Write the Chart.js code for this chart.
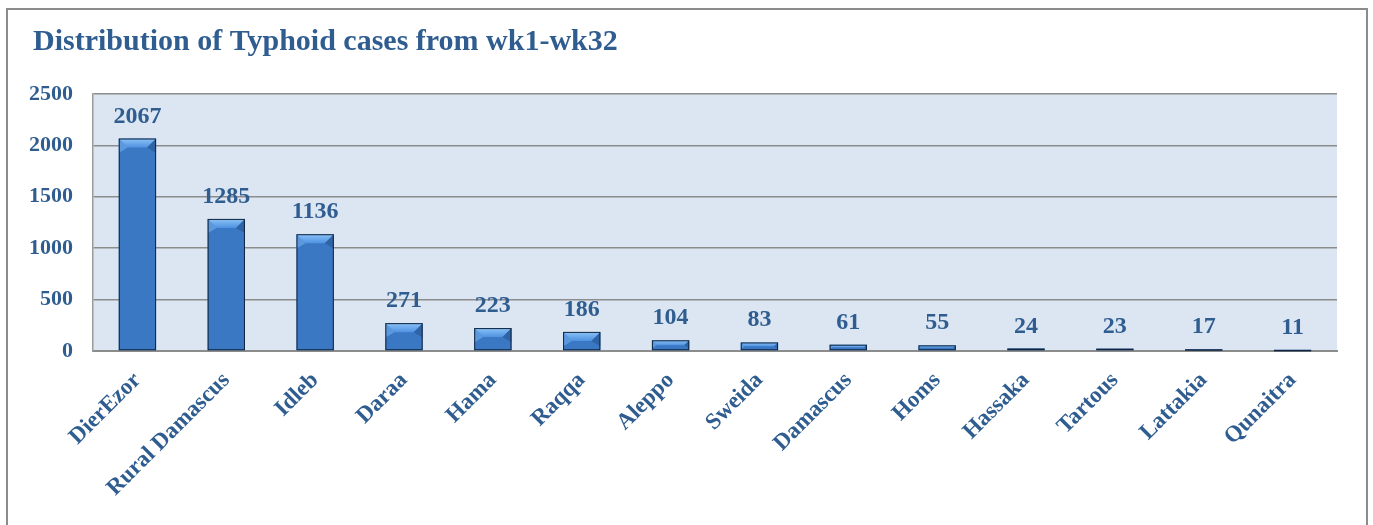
<!DOCTYPE html>
<html>
<head>
<meta charset="utf-8">
<script src="https://cdn.jsdelivr.net/npm/chart.js@4"></script>
<style>
  html,body{margin:0;padding:0;background:#fff;overflow:hidden;}
  #frame{position:absolute;left:6px;top:8px;width:1358px;height:540px;border:2px solid #8c8c8c;}
  #wrap{position:absolute;left:0;top:0;width:1373px;height:525px;}
</style>
</head>
<body>
<div id="frame"></div>
<div id="wrap"><canvas id="chart" width="1373" height="525"></canvas></div>
<script>
const governorates = ['DierEzor','Rural Damascus','Idleb','Daraa','Hama','Raqqa','Aleppo','Sweida','Damascus','Homs','Hassaka','Tartous','Lattakia','Qunaitra'];
const typhoidCases = [2067,1285,1136,271,223,186,104,83,61,55,24,23,17,11];
const yTicks = [0,500,1000,1500,2000,2500];

const titleText = 'Distribution of Typhoid cases from wk1-wk32';
const textColor = '#2f5d90';
const serif = '"Liberation Serif", "DejaVu Serif", serif';

function barFill(ctx){
  const chart = ctx.chart;
  const el = ctx.element;
  if(!chart.chartArea || !el || el.width===undefined) return '#3a78c4';
  const half = el.width/2;
  const g = chart.ctx.createLinearGradient(el.x-half,0,el.x+half,0);
  g.addColorStop(0,'#21528c');
  g.addColorStop(0.15,'#3372bd');
  g.addColorStop(0.5,'#3f82d6');
  g.addColorStop(0.85,'#3372bd');
  g.addColorStop(1,'#21528c');
  return g;
}

// plot area background
const plotBg = {
  id:'plotBg',
  beforeDraw(chart){
    const {ctx,chartArea:a} = chart;
    ctx.save();
    ctx.fillStyle = '#dce6f2';
    ctx.fillRect(a.left,a.top,a.right-a.left,a.bottom-a.top);
    ctx.restore();
  }
};

// title drawn at the top-left
const titlePlugin = {
  id:'titleLeft',
  afterDraw(chart){
    const ctx = chart.ctx;
    ctx.save();
    ctx.font = 'bold 30px '+serif;
    ctx.fillStyle = textColor;
    ctx.textBaseline = 'alphabetic';
    ctx.fillText(titleText,33,50);
    ctx.restore();
  }
};

// bevel on top of each bar and value labels
const bevelAndLabels = {
  id:'bevelAndLabels',
  afterDatasetsDraw(chart){
    const ctx = chart.ctx;
    const meta = chart.getDatasetMeta(0);
    ctx.save();
    meta.data.forEach((bar,i)=>{
      const l = bar.x-bar.width/2, r = bar.x+bar.width/2;
      const t = bar.y, b = bar.base;
      const h = b-t;
      const bv = Math.min(9,h/2);
      if(h>2){
        // top face
        const g = ctx.createLinearGradient(0,t,0,t+bv);
        g.addColorStop(0,'#8cc3f6');
        g.addColorStop(1,'#4f92e2');
        ctx.fillStyle = g;
        ctx.beginPath();
        ctx.moveTo(l,t);ctx.lineTo(r,t);ctx.lineTo(r-bv,t+bv);ctx.lineTo(l+bv,t+bv);ctx.closePath();
        ctx.fill();
        // left corner facet
        ctx.fillStyle = 'rgba(120,180,240,0.55)';
        ctx.beginPath();
        ctx.moveTo(l,t);ctx.lineTo(l+bv,t+bv);ctx.lineTo(l,t+bv*1.6);ctx.closePath();
        ctx.fill();
        // right corner facet
        ctx.fillStyle = 'rgba(25,60,110,0.35)';
        ctx.beginPath();
        ctx.moveTo(r,t);ctx.lineTo(r-bv,t+bv);ctx.lineTo(r,t+bv*1.6);ctx.closePath();
        ctx.fill();
      }
      ctx.strokeStyle = '#10243f';
      ctx.lineWidth = 1;
      ctx.strokeRect(l+0.5,t+0.5,r-l-1,Math.max(h-1,0.5));
      ctx.font = 'bold 24px '+serif;
      ctx.fillStyle = textColor;
      ctx.textAlign = 'center';
      ctx.textBaseline = 'alphabetic';
      ctx.fillText(String(typhoidCases[i]),bar.x,t-16);
    });
    ctx.restore();
  }
};

new Chart(document.getElementById('chart'),{
  type:'bar',
  data:{
    labels:governorates,
    datasets:[{
      data:typhoidCases,
      backgroundColor:barFill,
      borderWidth:0,
      barPercentage:0.42,
      categoryPercentage:1
    }]
  },
  options:{
    responsive:false,
    animation:false,
    events:[],
    layout:{padding:{top:94,left:8,right:36,bottom:0}},
    plugins:{legend:{display:false},title:{display:false},tooltip:{enabled:false}},
    scales:{
      x:{
        grid:{display:false,drawTicks:false},
        border:{display:true,color:'#8c8c8c',width:2},
        ticks:{
          color:textColor,
          font:{family:serif,size:23,weight:'bold'},
          minRotation:45,maxRotation:45,
          autoSkip:false,
          padding:16
        },
        afterFit(scale){scale.height = 174;}
      },
      y:{
        min:0,max:2500,
        afterBuildTicks(scale){scale.ticks = yTicks.map(v=>({value:v}));},
        grid:{color:'#8c8c8c',lineWidth:1.5,drawTicks:false},
        border:{display:true,color:'#9a9a9a',width:1.5},
        ticks:{
          color:textColor,
          font:{family:serif,size:22,weight:'bold'},
          padding:20,
          callback:(v)=>String(v)
        },
        afterFit(scale){scale.width = 85;}
      }
    }
  },
  plugins:[plotBg,bevelAndLabels,titlePlugin]
});
</script>
</body>
</html>
